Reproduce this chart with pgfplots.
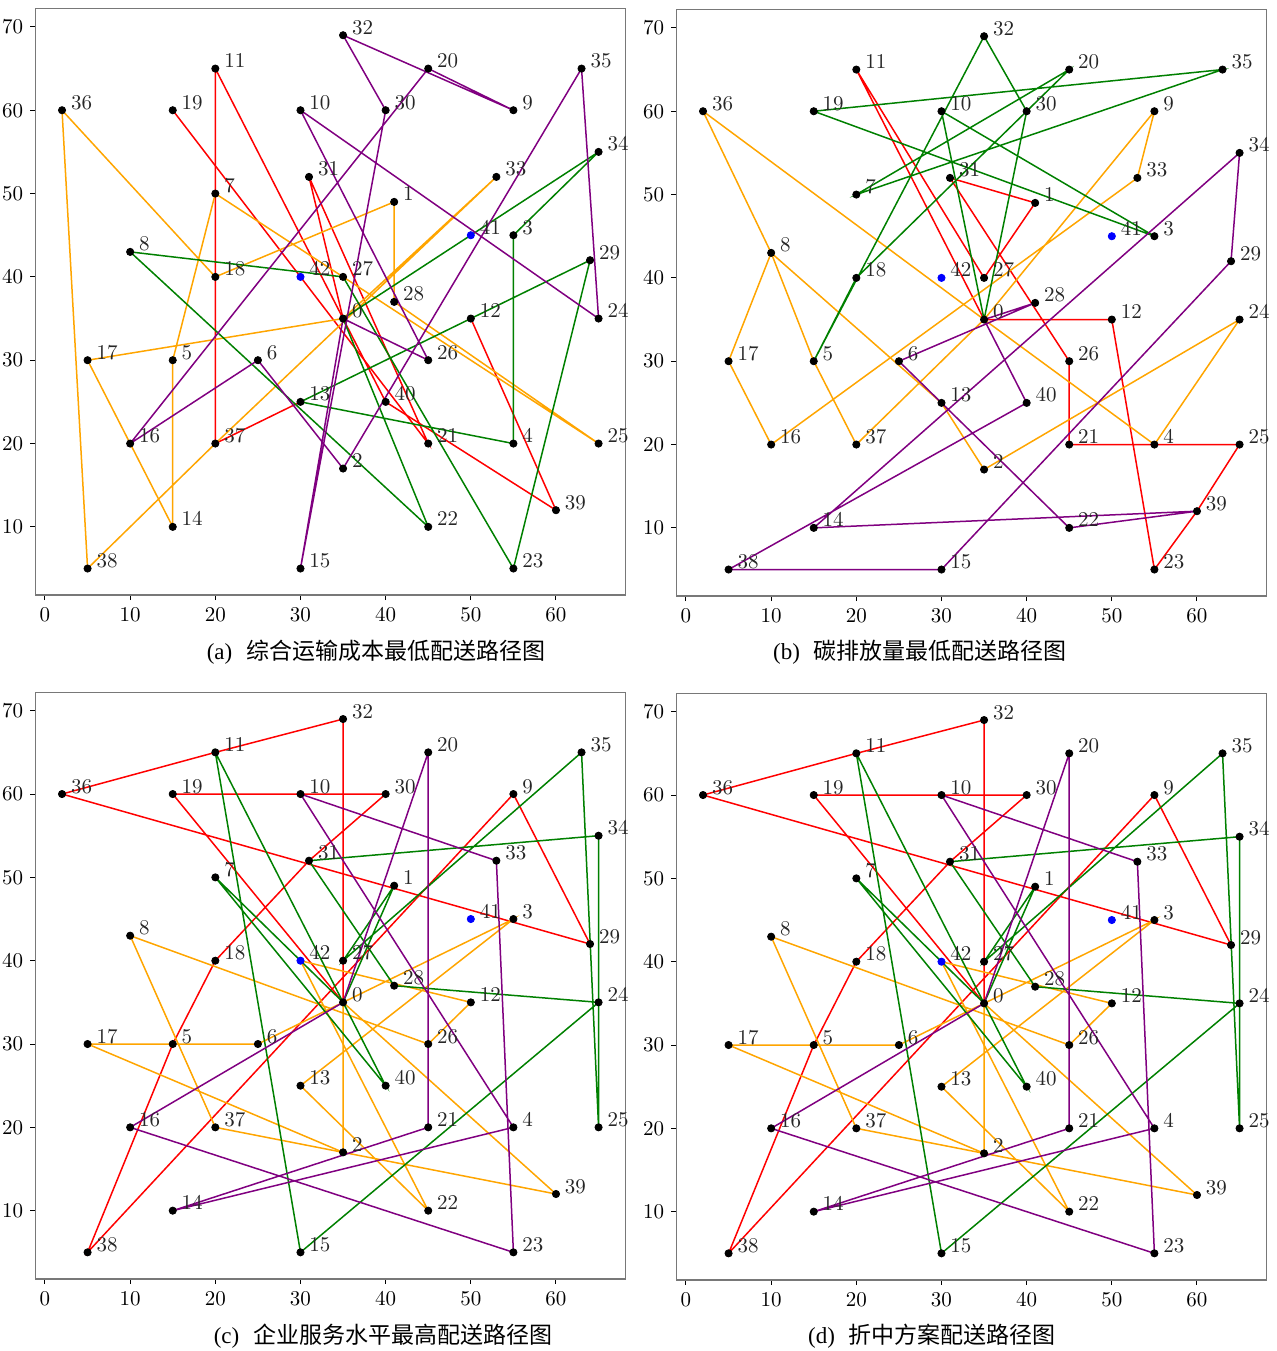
\documentclass[border=0pt]{standalone}
\usepackage{pgfplots}
\pgfplotsset{compat=1.18}
\usepackage{pgfplotstable}
\usepackage{fontspec}
\newfontfamily\cjk{Noto Sans CJK SC}
\newfontfamily\capfont{Liberation Serif}

\definecolor{mplred}{RGB}{255,0,0}
\definecolor{mplorange}{RGB}{255,165,0}
\definecolor{mplgreen}{RGB}{0,128,0}
\definecolor{mplpurple}{RGB}{128,0,128}
\definecolor{mplblue}{RGB}{0,0,255}
\definecolor{framegray}{RGB}{120,120,120}

% customer nodes (black markers)
\pgfplotstableread{
x y lab
35 35 0
41 49 1
35 17 2
55 45 3
55 20 4
15 30 5
25 30 6
20 50 7
10 43 8
55 60 9
30 60 10
20 65 11
50 35 12
30 25 13
15 10 14
30 5 15
10 20 16
5 30 17
20 40 18
15 60 19
45 65 20
45 20 21
45 10 22
55 5 23
65 35 24
65 20 25
45 30 26
35 40 27
41 37 28
64 42 29
40 60 30
31 52 31
35 69 32
53 52 33
65 55 34
63 65 35
2 60 36
20 20 37
5 5 38
60 12 39
40 25 40
}\custnodes

% special nodes (blue markers)
\pgfplotstableread{
x y lab
50 45 41
30 40 42
}\bluenodes

\pgfplotsset{
  routeaxis/.style={
    scale only axis, width=295.1pt, height=293.3pt,
    xmin=-1.15, xmax=68.15, ymin=1.8, ymax=72.2,
    xtick={0,10,...,60}, ytick={10,20,...,70},
    tick align=outside, tick pos=left,
    major tick length=2.5pt,
    every tick/.style={black, line width=0.5pt},
    axis line style={framegray, line width=0.7pt},
    /pgf/number format/assume math mode=true,
    tick label style={font=\fontsize{10.5}{12}\selectfont},
    anchor=south west,
  },
  route/.style={line width=0.75pt, mark=none},
}

\newcommand{\nodemarks}{%
  \addplot[only marks, mark=*, mark size=1.8pt, black] table {\custnodes};
  \addplot[only marks, mark=*, mark size=1.8pt, mplblue] table {\bluenodes};
}
\newcommand{\nodelabels}{%
  \addplot[draw=none, nodes near coords, point meta=explicit symbolic,
    nodes near coords style={anchor=base west, inner sep=0pt, xshift=4.3pt, yshift=0.5pt,
      font=\fontsize{10.5}{12}\selectfont, text=black!85}]
    table[meta=lab] {\custnodes};
  \addplot[draw=none, nodes near coords, point meta=explicit symbolic,
    nodes near coords style={anchor=base west, inner sep=0pt, xshift=4.3pt, yshift=0.5pt,
      font=\fontsize{10.5}{12}\selectfont, text=black!85}]
    table[meta=lab] {\bluenodes};
}

% routes shared by the service-level and compromise plans
\newcommand{\servicero}{%
  \addplot[mplred, route] coordinates {(35,35)(15,60)(30,60)(40,60)(31,52)(20,40)(15,30)(5,5)(55,60)(64,42)(2,60)(20,65)(35,69)(35,40)(35,35)};
  \addplot[mplorange, route] coordinates {(35,35)(60,12)(20,20)(10,43)(45,30)(50,35)(30,40)(45,10)(30,25)(55,45)(35,35)};
  \addplot[mplorange, route] coordinates {(35,35)(25,30)(15,30)(5,30)(35,17)(35,35)};
  \addplot[mplgreen, route] coordinates {(35,35)(41,49)(35,40)(63,65)(65,20)(65,55)(31,52)(41,37)(65,35)(30,5)(20,65)(40,25)(20,50)(35,35)};
  \addplot[mplpurple, route] coordinates {(35,35)(10,20)(55,5)(53,52)(30,60)(55,20)(15,10)(45,20)(45,65)(35,35)};
}

\begin{document}
\begin{tikzpicture}
\path[use as bounding box] (0,0) rectangle (638.5pt,675.5pt);

% (a) lowest total transport cost
\begin{axis}[routeaxis, at={(17.6pt,377.9pt)}]
  \nodemarks
  \addplot[mplred, route] coordinates {(35,35)(31,52)(45,20)(30,40)(15,60)};
  \addplot[mplred, route] coordinates {(30,25)(20,20)(20,65)(40,25)(60,12)(50,35)};
  \addplot[mplorange, route] coordinates {(35,35)(5,30)(15,10)(15,30)(20,50)(65,20)(41,37)(41,49)(20,40)(2,60)(5,5)(20,20)(53,52)(35,35)};
  \addplot[mplgreen, route] coordinates {(35,35)(65,55)(55,45)(55,20)(30,25)(64,42)(55,5)(35,40)(10,43)(45,10)(35,35)};
  \addplot[mplpurple, route] coordinates {(35,35)(30,5)(40,60)(35,69)(55,60)(45,65)(10,20)(25,30)(35,17)(63,65)(65,35)(30,60)(45,30)(35,35)};
  \nodelabels
\end{axis}

% (b) lowest carbon emission
\begin{axis}[routeaxis, at={(338.1pt,377.4pt)}]
  \nodemarks
  \addplot[mplred, route] coordinates {(35,35)(50,35)(55,5)(60,12)(65,20)(45,20)(45,30)(31,52)(41,49)(35,40)(20,65)(35,35)};
  \addplot[mplorange, route] coordinates {(35,35)(55,60)(53,52)(10,20)(5,30)(10,43)(30,25)(35,17)(65,35)(55,20)(35,35)};
  \addplot[mplorange, route] coordinates {(35,35)(2,60)(10,43)(15,30)(20,20)(35,35)};
  \addplot[mplgreen, route] coordinates {(35,35)(30,60)(55,45)(15,60)(63,65)(20,50)(45,65)(20,40)(15,30)(35,69)(40,60)(35,35)};
  \addplot[mplpurple, route] coordinates {(35,35)(41,37)(25,30)(45,10)(60,12)(15,10)(65,55)(64,42)(30,5)(5,5)(40,25)(35,35)};
  \nodelabels
\end{axis}

% (c) highest service level
\begin{axis}[routeaxis, at={(17.6pt,36pt)}]
  \nodemarks
  \servicero
  \nodelabels
\end{axis}

% (d) compromise plan
\begin{axis}[routeaxis, at={(338.1pt,35.5pt)}]
  \nodemarks
  \servicero
  \nodelabels
\end{axis}

\node[font=\fontsize{11.5}{13}\selectfont] at (188pt,349.5pt) {\capfont(a)\hspace{0.6em}\cjk 综合运输成本最低配送路径图};
\node[font=\fontsize{11.5}{13}\selectfont] at (460pt,349.5pt) {\capfont(b)\hspace{0.6em}\cjk 碳排放量最低配送路径图};
\node[font=\fontsize{11.5}{13}\selectfont] at (191.5pt,7.5pt) {\capfont(c)\hspace{0.6em}\cjk 企业服务水平最高配送路径图};
\node[font=\fontsize{11.5}{13}\selectfont] at (466pt,7.5pt) {\capfont(d)\hspace{0.6em}\cjk 折中方案配送路径图};
\end{tikzpicture}
\end{document}
